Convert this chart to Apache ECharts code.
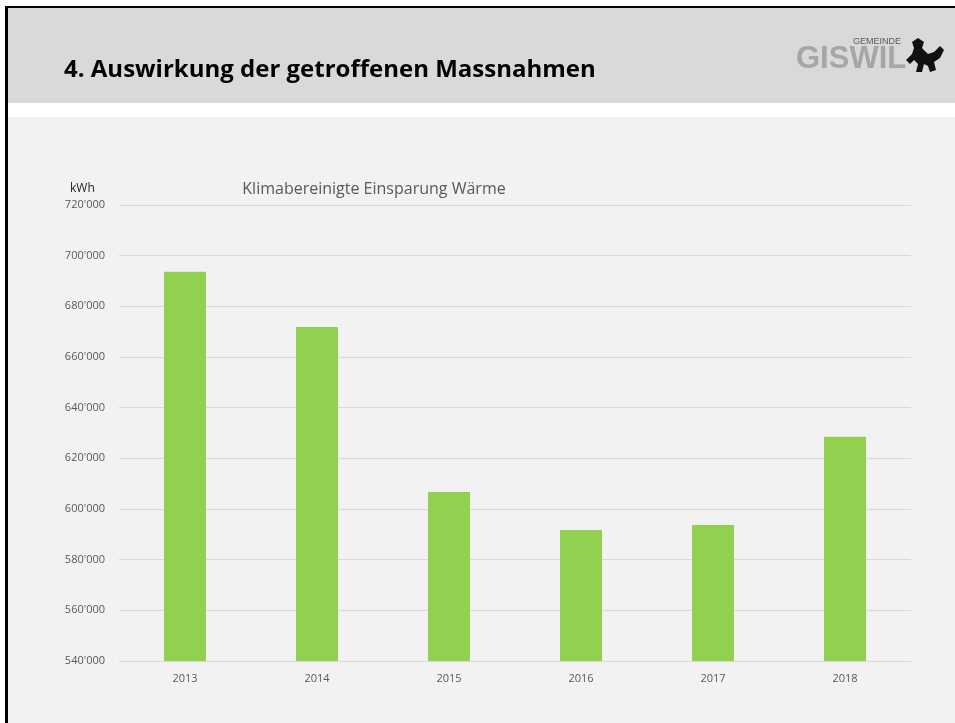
<!DOCTYPE html>
<html>
<head>
<meta charset="utf-8">
<script src="https://cdn.jsdelivr.net/npm/echarts@6/dist/echarts.min.js"></script>
<style>
  html, body { margin: 0; padding: 0; background: #ffffff; }
  #main { width: 955px; height: 723px; }
</style>
</head>
<body>
<div id="main"></div>
<script>
var years = ['2013', '2014', '2015', '2016', '2017', '2018'];
var savings = [693700, 671800, 606700, 591700, 593700, 628500];
var yMin = 540000;
var yMax = 720000;
var yStep = 20000;

var chartDom = document.getElementById('main');
var myChart = echarts.init(chartDom);
var option;

// 720000 -> 720'000
function swiss(v) {
  return String(v).replace(/\B(?=(\d{3})+(?!\d))/g, "'");
}

option = {
  backgroundColor: '#ffffff',
  textStyle: { fontFamily: 'Open Sans' },
  title: {
    text: 'Klimabereinigte Einsparung Wärme',
    left: 369,
    textAlign: 'center',
    top: 176,
    textStyle: { fontSize: 16, fontWeight: 'normal', color: '#595959', fontFamily: 'Open Sans' }
  },
  graphic: [
    // slide frame + header
    { type: 'rect', shape: { x: 5, y: 6, width: 960, height: 730 }, style: { fill: '#000' }, z: -10 },
    { type: 'rect', shape: { x: 8, y: 8, width: 960, height: 730 }, style: { fill: '#ffffff' }, z: -9 },
    { type: 'rect', shape: { x: 8, y: 8, width: 960, height: 95 }, style: { fill: '#d9d9d9' }, z: -8 },
    { type: 'rect', shape: { x: 8, y: 117, width: 960, height: 620 }, style: { fill: '#f2f2f2' }, z: -8 },
    {
      type: 'text', left: 64, top: 58, z: 5,
      style: { text: '4. Auswirkung der getroffenen Massnahmen', font: 'bold 24px "Open Sans"', fill: '#000' }
    },
    // logo
    {
      type: 'text', left: 796, top: 44, z: 5,
      style: { text: 'GISWIL', font: 'bold 31px "Liberation Sans"', fill: '#a6a6a6' }
    },
    {
      type: 'text', left: 853, top: 37, z: 5,
      style: { text: 'GEMEINDE', font: '9px "Liberation Sans"', fill: '#595959' }
    },
    {
      type: 'polygon', z: 6,
      shape: { points: [[912, 42], [918, 38], [924, 42], [922, 48], [928, 54], [934, 52], [940, 46], [944, 50], [940, 58], [934, 62], [936, 70], [930, 72], [928, 66], [924, 64], [922, 72], [916, 72], [918, 64], [914, 60], [910, 64], [906, 60], [912, 54], [914, 48]] },
      style: { fill: '#111' }
    },
    {
      type: 'text', left: 70, top: 183, z: 5,
      style: { text: 'kWh', font: '12px "Open Sans"', fill: '#262626' }
    }
  ],
  grid: {
    left: 119,
    right: 44,
    top: 205,
    bottom: 62
  },
  xAxis: {
    type: 'category',
    data: years,
    axisLine: { lineStyle: { color: '#d9d9d9', width: 1 } },
    axisTick: { show: false },
    axisLabel: { color: '#595959', fontSize: 11, margin: 12 }
  },
  yAxis: {
    type: 'value',
    min: yMin,
    max: yMax,
    interval: yStep,
    axisLine: { show: false },
    axisTick: { show: false },
    splitLine: { lineStyle: { color: '#d9d9d9', width: 1 } },
    axisLabel: { color: '#595959', fontSize: 11, margin: 14, formatter: swiss }
  },
  series: [
    {
      name: 'Einsparung',
      type: 'bar',
      data: savings,
      barWidth: 42,
      itemStyle: { color: '#92d050' },
      silent: true
    }
  ]
};

option && myChart.setOption(option);
</script>
</body>
</html>
